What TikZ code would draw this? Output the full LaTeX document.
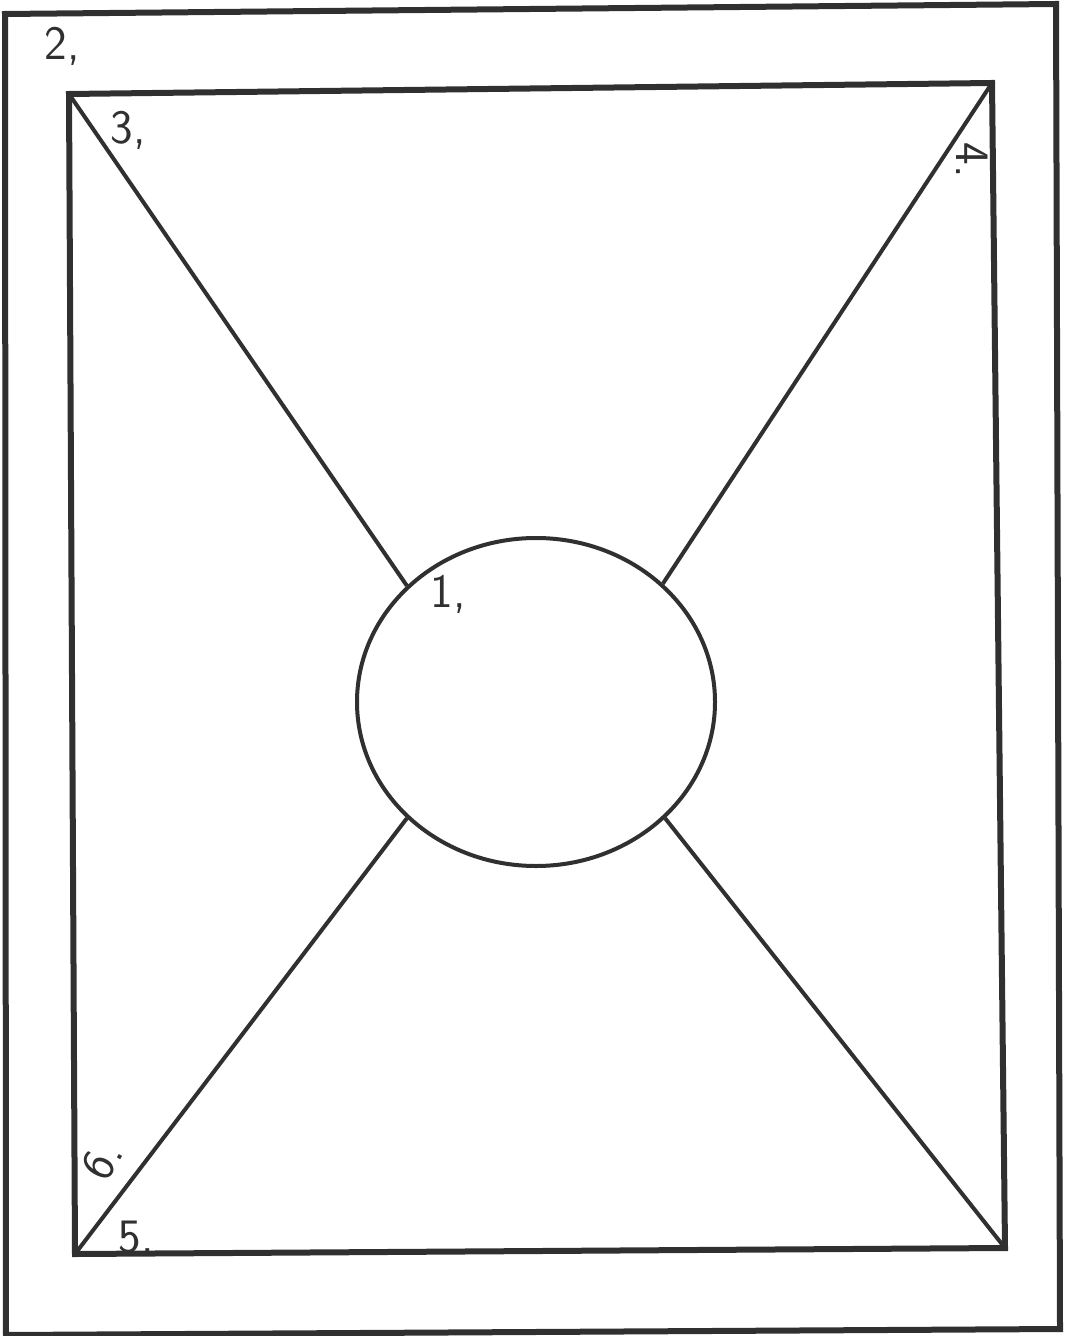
\documentclass[tikz,border=0pt]{standalone}
\usetikzlibrary{shapes.geometric}
\definecolor{ink}{HTML}{303030}
\begin{document}
\begin{tikzpicture}[x=0.5pt,y=-0.5pt,
  frame/.style={draw=ink, line width=3pt, line join=miter},
  spoke/.style={draw=ink, line width=2pt},
  hub/.style={ellipse, draw=ink, line width=2pt, minimum width=179pt, minimum height=164pt, inner sep=0pt},
  lbl/.style={text=ink, font=\sffamily\fontsize{24}{24}\selectfont, inner sep=0pt}]
\useasboundingbox[fill=white] (0,0) rectangle (1064,1336);
% outer frame
\coordinate (o1) at (5,14);
\coordinate (o2) at (1056,4);
\coordinate (o3) at (1060,1329);
\coordinate (o4) at (6,1335);
\draw[frame] (o1) -- (o2) -- (o3) -- (o4) -- cycle;
% inner frame
\coordinate (tl) at (69,94);
\coordinate (tr) at (992,83);
\coordinate (br) at (1005,1248);
\coordinate (bl) at (75,1254);
\draw[frame] (tl) -- (tr) -- (br) -- (bl) -- cycle;
% central circle
\node[hub] (c) at (536,702) {};
% spokes
\draw[spoke] (tl) -- (c.138);
\draw[spoke] (tr) -- (c.43);
\draw[spoke] (bl) -- (c.222);
\draw[spoke] (br) -- (c.318);
% labels
\node[lbl] (n1) at (448,594) {1,};
\node[lbl] (n2) at (62,46) {2,};
\node[lbl] (n3) at (128,130) {3,};
\node[lbl, rotate=-90] (n4) at (972,160) {4.};
\node[lbl] (n5) at (136,1237) {5.};
\node[lbl, rotate=60] (n6) at (102,1160) {6.};
\end{tikzpicture}
\end{document}
